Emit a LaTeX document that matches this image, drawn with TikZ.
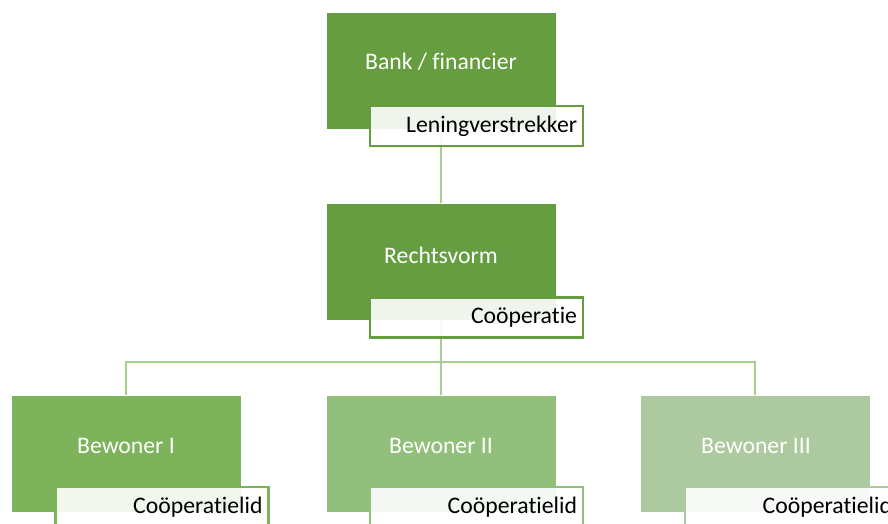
\documentclass[tikz,border=0pt]{standalone}
\usepackage{fontspec}
\setmainfont{Carlito}[Ligatures=NoCommon]
\usepackage{tikz}

\definecolor{topgreen}{HTML}{659D40}
\definecolor{bewgreenA}{HTML}{7DB35A}
\definecolor{bewgreenB}{HTML}{93BF7D}
\definecolor{bewgreenC}{HTML}{ADC99F}
\definecolor{linegreen}{HTML}{A8CD91}

\tikzset{
  mainbox/.style={rectangle, draw=white, line width=0.6pt, inner sep=0pt,
    minimum width=230pt, minimum height=117pt},
  maintext/.style={text=white, inner sep=0pt, font=\fontsize{23.7}{28}\selectfont},
  rolbox/.style={rectangle, line width=2.4pt, fill=white, fill opacity=0.9,
    text opacity=1, inner xsep=6pt, inner ysep=0pt, text width=201pt,
    align=right, minimum height=40pt, text height=17pt, text depth=5pt,
    font=\fontsize{23.7}{28}\selectfont},
  tak/.style={linegreen, line width=2.6pt}
}

\begin{document}
\begin{tikzpicture}[x=1pt, y=-1pt]

        \useasboundingbox (0,0) rectangle (888,524);
        \clip (0,0) rectangle (888,524);

        % boxes
        \node[mainbox, fill=topgreen] (bank) at (441,70.5) {};
        \node[mainbox, fill=topgreen] (rechtsvorm) at (441,262) {};
        \node[mainbox, fill=bewgreenA] (bewonerA) at (126,454) {};
        \node[mainbox, fill=bewgreenB] (bewonerB) at (441,454) {};
        \node[mainbox, fill=bewgreenC] (bewonerC) at (755,454) {};

        % connectors
        \coordinate (split) at (441,362);
        \draw[tak] (bank.south) -- (rechtsvorm.north);
        \draw[tak] (rechtsvorm.south) -- (split);
        \draw[tak] (bewonerA.north) |- (split) -| (bewonerC.north);
        \draw[tak] (split) -- (bewonerB.north);

        \node[maintext] (banktxt) at (441,62) {Bank / financier};
        \node[maintext] (rechtsvormtxt) at (441,255) {Rechtsvorm};
        \node[maintext] (bewonerAtxt) at (126,446) {Bewoner I};
        \node[maintext] (bewonerBtxt) at (441,446) {Bewoner II};
        \node[maintext] (bewonerCtxt) at (756,446) {Bewoner III};

        % roles
        \node[rolbox, draw=topgreen] (bankrol) at (476.5,126) {Leningverstrekker};
        \node[rolbox, draw=topgreen] (rechtsvormrol) at (476.5,317.5) {Coöperatie};
        \node[rolbox, draw=bewgreenA] (bewonerArol) at (162,507) {Coöperatielid};
        \node[rolbox, draw=bewgreenB] (bewonerBrol) at (476.5,507) {Coöperatielid};
        \node[rolbox, draw=bewgreenC] (bewonerCrol) at (791.5,507) {Coöperatielid};

\end{tikzpicture}
\end{document}
